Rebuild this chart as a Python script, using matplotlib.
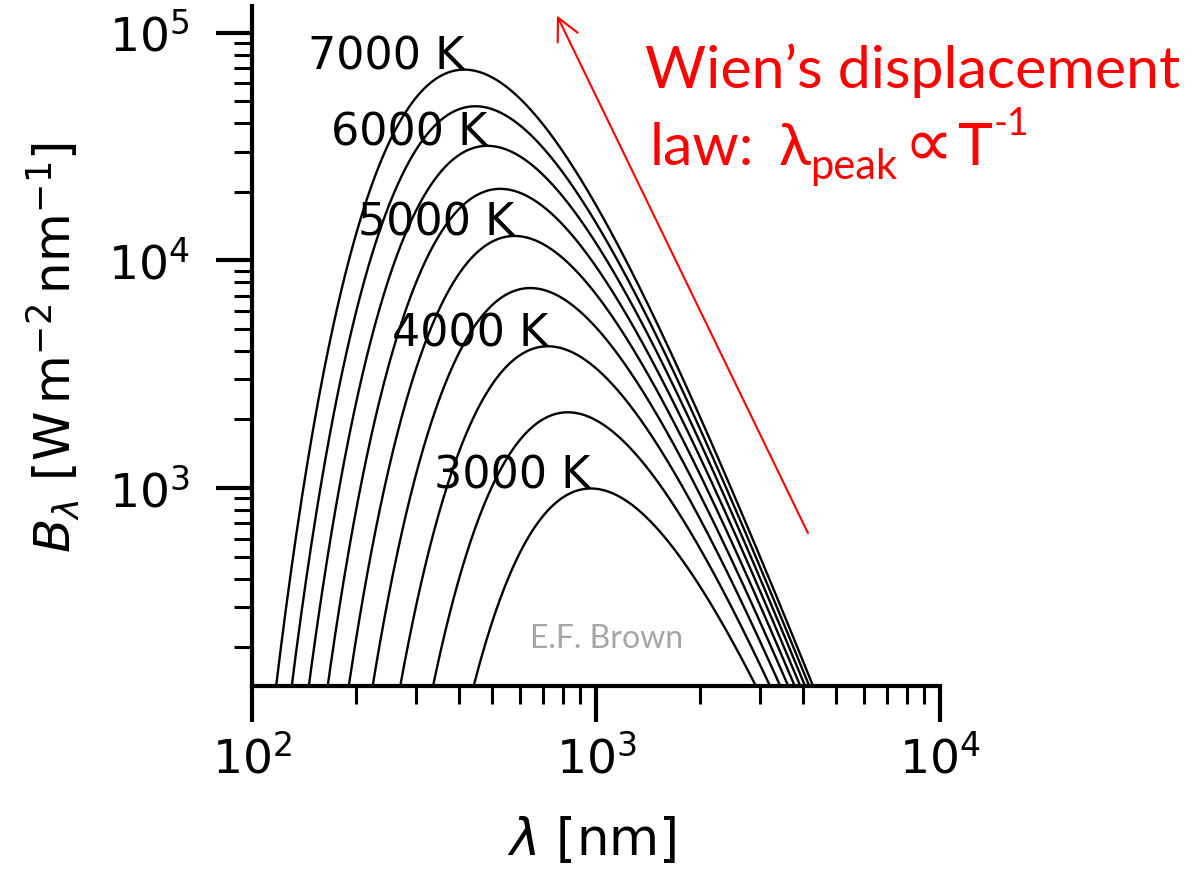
import numpy as np
import matplotlib
matplotlib.use("Agg")
import matplotlib.pyplot as plt

# ---- data ----
temperatures_K = [3000, 3500, 4000, 4500, 5000, 5500, 6000, 6500, 7000]
labeled_temperatures_K = [3000, 4000, 5000, 6000, 7000]
wavelength_nm = np.logspace(np.log10(100), np.log10(10000), 800)

# physical constants (SI)
h = 6.62607015e-34
c = 2.99792458e8
k_B = 1.380649e-23
wien_b_nm_K = 2.897771955e6


def planck_per_nm(lam_nm, T):
    lam = np.asarray(lam_nm) * 1e-9
    return 2 * h * c**2 / lam**5 / np.expm1(h * c / (lam * k_B * T)) * 1e-9


W, H = 1201, 869
fig = plt.figure(figsize=(W / 100, H / 100), dpi=100)


def fx(x):
    return x / W


def fy(y):
    return 1 - y / H


ax = fig.add_axes([fx(252), fy(686), fx(940) - fx(252), fy(6) - fy(686)])
ax.set_xscale("log")
ax.set_yscale("log")
ax.set_xlim(100, 10000)
ax.set_ylim(135, 1.31e5)

for T in temperatures_K:
    ax.plot(wavelength_nm, planck_per_nm(wavelength_nm, T), color="black", lw=1.7)

for T in labeled_temperatures_K:
    lp = wien_b_nm_K / T
    ax.text(lp, planck_per_nm(lp, T), f"{T} K", fontsize=32, ha="right",
            va="baseline", color="black")

for s in ["top", "right"]:
    ax.spines[s].set_visible(False)
for s in ["left", "bottom"]:
    ax.spines[s].set_linewidth(3)

ax.tick_params(which="major", direction="out", length=26, width=3, labelsize=34)
ax.tick_params(which="minor", direction="out", length=13, width=2.2)
ax.tick_params(axis="y", which="major", pad=19)
ax.tick_params(axis="x", which="major", pad=10)

ax.set_xlabel(r"$\lambda$ [nm]", fontsize=37)
ax.set_ylabel(r"$B_\lambda\ [\mathrm{W\,m^{-2}\,nm^{-1}}]$", fontsize=36)
ax.xaxis.set_label_coords((592 - 252) / 688, (686 - 815) / 680)
ax.yaxis.set_label_coords((82 - 252) / 688, (686 - 348) / 680)

# Wien's law arrow (data coordinates)
ax.annotate("", xy=(770, 1.19e5), xytext=(4130, 635), xycoords="data",
            textcoords="data", annotation_clip=False,
            arrowprops=dict(arrowstyle="->,head_length=0.8,head_width=0.4",
                            color="red", lw=1.5, mutation_scale=20,
                            shrinkA=0, shrinkB=0))

fam = ["Lato", "DejaVu Sans"]
fig.text(fx(645), fy(88), "Wien\u2019s displacement", fontsize=42.5, color="red",
         family=fam, ha="left", va="baseline")

fig.canvas.draw()
r = fig.canvas.get_renderer()
pieces = [
    ("law:", 42.5, 0, 0),
    ("\u03bb", 42.5, 0, 24),
    ("peak", 30, 14, 0),
    ("\u221d", 50, 0, 6),
    ("T", 42.5, 0, 4),
    ("-1", 27, -30, 2),
]
x = 650
for s, size, dy, gap_before in pieces:
    x += gap_before
    t = fig.text(fx(x), fy(165 + dy), s, fontsize=size, color="red", family=fam,
                 ha="left", va="baseline")
    bb = t.get_window_extent(r)
    x += bb.width

fig.text(fx(530), fy(648), "E.F. Brown", fontsize=23, color="#a6a6a6",
         family=fam, ha="left", va="baseline")

fig.savefig("out.png", dpi=100)
